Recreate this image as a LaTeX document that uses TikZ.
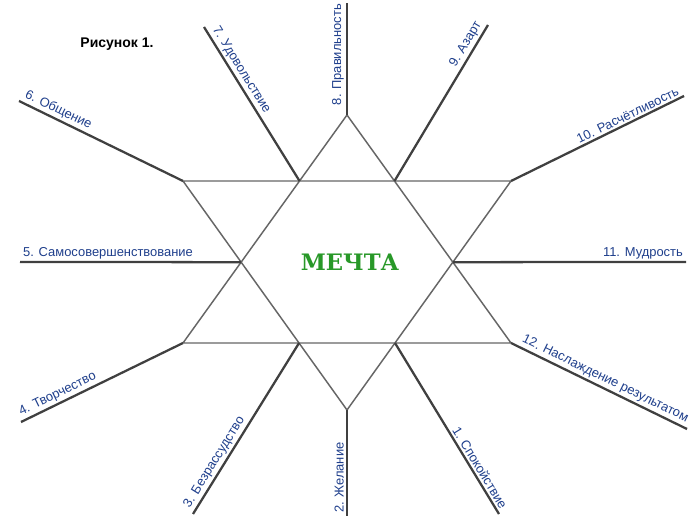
\documentclass[tikz,border=0pt]{standalone}
\usepackage{fontspec}
\setmainfont{Liberation Sans}
\newfontfamily\dreamfont{DejaVu Serif}
\usetikzlibrary{calc}
\definecolor{lblblue}{RGB}{31,63,140}
\definecolor{dreamgreen}{RGB}{40,152,40}

\begin{document}
\begin{tikzpicture}[x=0.75pt, y=-0.75pt,
    star/.style={draw=black!60, line width=1.1pt, line join=miter},
    ray/.style={draw=black!75, line width=1.7pt},
    lbl/.style={sloped, text=lblblue, font=\fontsize{9.7}{12}\selectfont, inner sep=1.5pt}]
    \useasboundingbox[fill=white] (0,0) rectangle (700,530);

    % outer points of the star
    \coordinate (T) at (347,115);
    \coordinate (B) at (347,410);
    \coordinate (UL) at (183,181);
    \coordinate (UR) at (511,181);
    \coordinate (LL) at (183,343);
    \coordinate (LR) at (511,343);
    % inner crossings
    \coordinate (iUL) at (intersection of T--LL and UL--UR);
    \coordinate (iUR) at (intersection of T--LR and UL--UR);
    \coordinate (iL) at (intersection of T--LL and UL--B);
    \coordinate (iR) at (intersection of T--LR and UR--B);
    \coordinate (iLL) at (intersection of UL--B and LL--LR);
    \coordinate (iLR) at (intersection of UR--B and LL--LR);

    \draw[star] (T) -- (LL) -- (LR) -- cycle;
    \draw[star] (B) -- (UL) -- (UR) -- cycle;

    % free ends of the rays
    \coordinate (e1) at (499,514);
    \coordinate (e2) at (347,516);
    \coordinate (e3) at (193,514);
    \coordinate (e4) at (21,422);
    \coordinate (e5) at (20,262);
    \coordinate (e6) at (19,101);
    \coordinate (e7) at (204,27);
    \coordinate (e8) at (347,3);
    \coordinate (e9) at (488,25);
    \coordinate (e10) at (684,96);
    \coordinate (e11) at (686,262);
    \coordinate (e12) at (687,429);

    \draw[ray] (iLR) -- (e1) node[lbl, pos=1, above left] (l1) {1. Спокойствие};
    \draw[ray] (e2) -- (B) node[lbl, pos=0, above right] (l2) {2. Желание};
    \draw[ray] (e3) -- (iLL) node[lbl, pos=0, above right] (l3) {3. Безрассудство};
    \draw[ray] (e4) -- (LL) node[lbl, pos=0, above right] (l4) {4. Творчество};
    \draw[ray] (e5) -- (iL) node[lbl, pos=0, above right] (l5) {5. Самосовершенствование};
    \draw[ray] (e6) -- (UL) node[lbl, pos=0, above right] (l6) {6. Общение};
    \draw[ray] (e7) -- (iUL) node[lbl, pos=0.02, above right] (l7) {7. Удовольствие};
    \draw[ray] (T) -- (e8) node[lbl, pos=0.06, above right] (l8) {8. Правильность};
    \draw[ray] (iUR) -- (e9) node[lbl, pos=1, above left] (l9) {9. Азарт};
    \draw[ray] (UR) -- (e10) node[lbl, pos=1, above left] (l10) {10. Расчётливость};
    \draw[ray] (iR) -- (e11) node[lbl, pos=1, above left] (l11) {11. Мудрость};
    \draw[ray] (LR) -- (e12) node[lbl, pos=0.03, above right] (l12) {12. Наслаждение результатом};

    \node (dream) at (350,262) [text=dreamgreen, font=\dreamfont\bfseries\fontsize{17}{20}\selectfont] {МЕЧТА};
    \node (fig) at (117,44) [font=\bfseries\fontsize{10.5}{12}\selectfont] {Рисунок 1.};
\end{tikzpicture}
\end{document}
